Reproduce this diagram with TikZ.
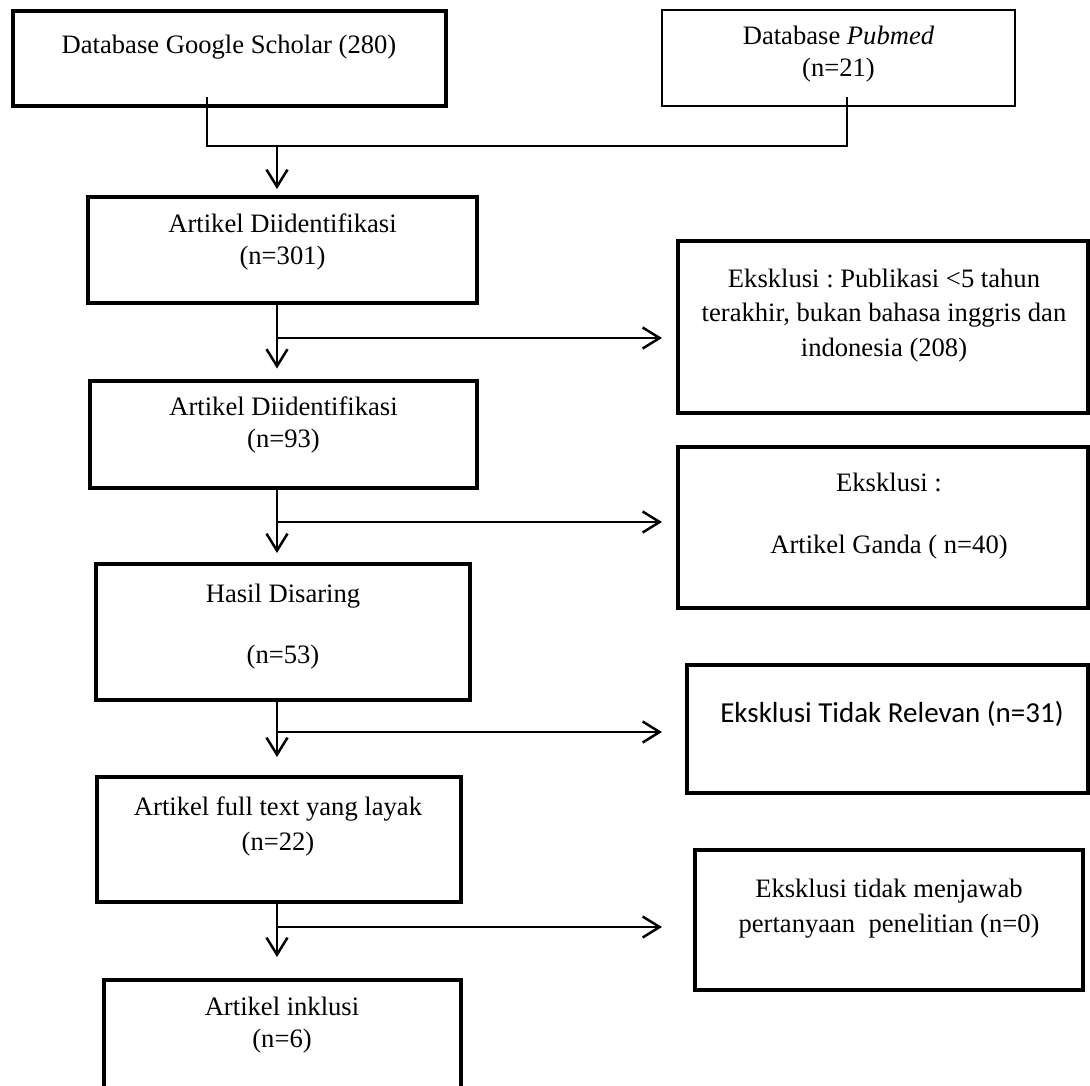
\documentclass[tikz,border=0pt]{standalone}
\usepackage{fontspec}
\setmainfont{Liberation Serif}
\newfontfamily\calibri{Carlito}
\usetikzlibrary{arrows.meta}
\frenchspacing

\tikzset{
    box/.style={draw, line width=4pt, inner sep=0pt, outer sep=0pt},
    thinbox/.style={draw, line width=2pt, inner sep=0pt, outer sep=0pt},
    txt/.style={align=center, inner sep=0pt, anchor=base, font=\fontsize{26.6}{32}\selectfont},
    link/.style={line width=2pt},
    flow/.style={line width=2.5pt, -{Straight Barb[length=17pt,width=21pt]}},
}

\begin{document}
\begin{tikzpicture}[x=1pt, y=-1pt]
    \useasboundingbox (0,0) rectangle (1090,1085);
    % sources (text nodes sit on their last baseline)
    \node[box, minimum width=433, minimum height=95] (gs) at (229,58) {};
    \node[txt] (gst) at (229,53) {Database Google Scholar (280)};
    \node[thinbox, minimum width=353, minimum height=96] (pm) at (838.5,58) {};
    \node[txt] (pmt) at (838.5,76) {Database \textit{Pubmed}\\(n=21)};
    % main column
    \node[box, minimum width=389, minimum height=106] (a1) at (282.5,250) {};
    \node[txt] (a1t) at (282.5,264) {Artikel Diidentifikasi\\(n=301)};
    \node[box, minimum width=387, minimum height=107] (a2) at (283.5,434) {};
    \node[txt] (a2t) at (283.5,447) {Artikel Diidentifikasi\\(n=93)};
    \node[box, minimum width=373.5, minimum height=136] (a3) at (283,632) {};
    \node[txt] (a3t) at (283,663) {Hasil Disaring\\[29pt](n=53)};
    \node[box, minimum width=364, minimum height=125] (a4) at (279,839.5) {};
    \node[txt] (a4t) at (278,850) {Artikel full text yang layak\\[3pt](n=22)};
    \node[box, minimum width=357, minimum height=130] (a5) at (282.5,1045) {};
    \node[txt] (a5t) at (282,1047) {Artikel inklusi\\(n=6)};
    % exclusions
    \node[box, minimum width=410, minimum height=172] (e1) at (883,327) {};
    \node[txt] (e1t) at (884,356) {Eksklusi : Publikasi <5 tahun\\[2.5pt]terakhir, bukan bahasa inggris dan\\[2.5pt]indonesia (208)};
    \node[box, minimum width=410, minimum height=161] (e2) at (883,527.5) {};
    \node[txt] (e2t) at (889,553) {Eksklusi :\\[30pt]Artikel Ganda ( n=40)};
    \node[box, minimum width=401, minimum height=128] (e3) at (887.5,729) {};
    \node[txt, font=\calibri\fontsize{29}{34}\selectfont] (e3t) at (892,722) {Eksklusi Tidak Relevan (n=31)};
    \node[box, minimum width=388, minimum height=140] (e4) at (889,920) {};
    \node[txt] (e4t) at (889,932) {Eksklusi tidak menjawab\\[3pt]pertanyaan\ \ penelitian (n=0)};

    \coordinate (gsj) at (207,97);
    \coordinate (pmj) at (847,97);
    \coordinate (mrg) at (277,146);
    \coordinate (col) at (277,0);
    \coordinate (tips) at (662,0);
    \coordinate (s1) at (277,338);
    \coordinate (s2) at (277,522);
    \coordinate (s3) at (277,732);
    \coordinate (s4) at (277,927);

    \draw[link] (gsj) |- (mrg) -| (pmj);
    \draw[flow, shorten >=8pt] (mrg) -- (a1.north -| mrg);
    \draw[flow, shorten >=12pt] (a1.south -| col) -- (a2.north -| col);
    \draw[flow, shorten >=11pt] (a2.south -| col) -- (a3.north -| col);
    \draw[flow, shorten >=20pt] (a3.south -| col) -- (a4.north -| col);
    \draw[flow, shorten >=23pt] (a4.south -| col) -- (a5.north -| col);
    \draw[flow] (s1) -- (s1 -| tips);
    \draw[flow] (s2) -- (s2 -| tips);
    \draw[flow] (s3) -- (s3 -| tips);
    \draw[flow] (s4) -- (s4 -| tips);
\end{tikzpicture}
\end{document}
